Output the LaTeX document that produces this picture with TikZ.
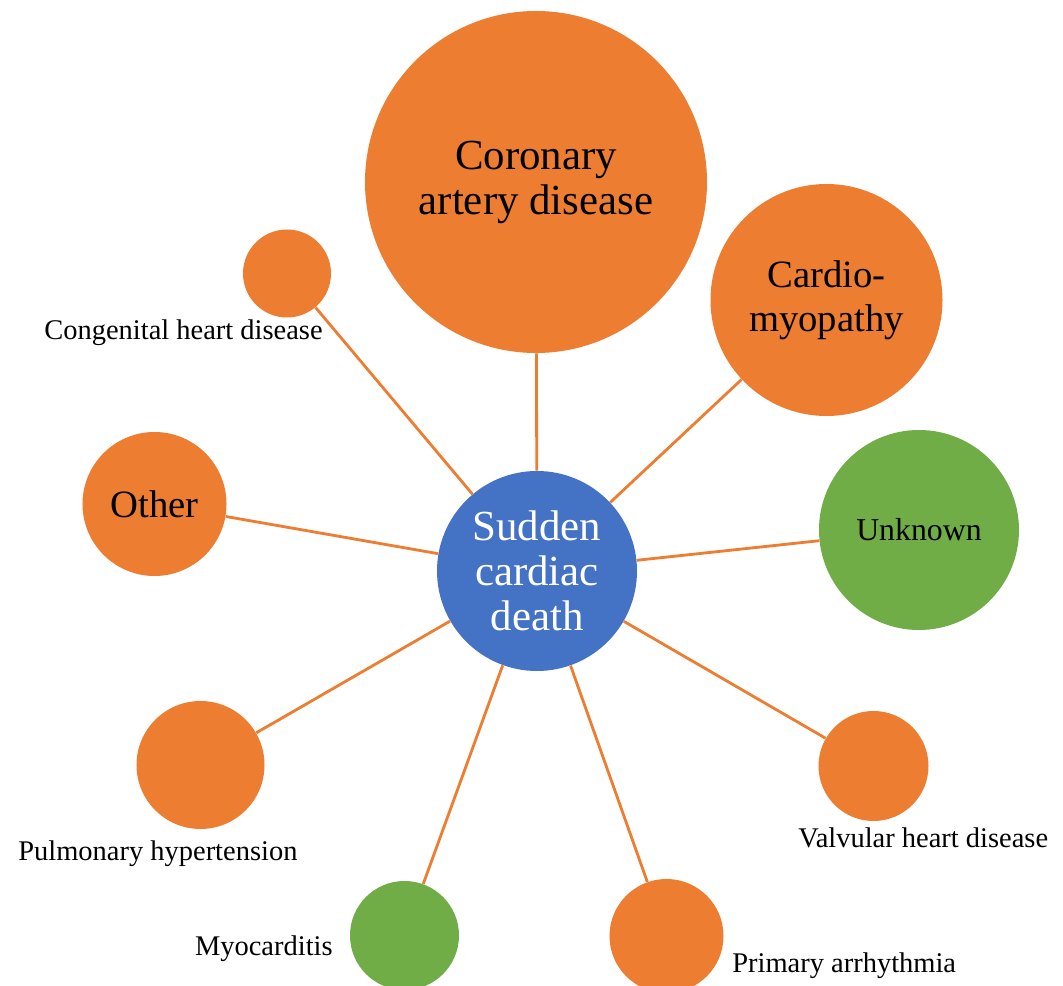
\documentclass[tikz,border=0pt]{standalone}
\usepackage{fontspec}
\setmainfont{Liberation Serif}
\definecolor{ballorange}{HTML}{ED7D31}
\definecolor{ballblue}{HTML}{4472C4}
\definecolor{ballgreen}{HTML}{70AD47}

\begin{document}
\begin{tikzpicture}[x=.2mm, y=-.2mm,
                ball/.style={circle, fill=ballorange, inner sep=0pt, align=center, minimum size=#1},
                greenball/.style={ball=#1, fill=ballgreen},
                bigtext/.style={font=\fontsize{24.4}{25.6}\selectfont},
                midtext/.style={font=\fontsize{22}{25}\selectfont},
                lbl/.style={inner sep=0pt, font=\fontsize{16.2}{18}\selectfont},
                spoke/.style={ballorange, line width=1.6pt}]
                \useasboundingbox (0,0) rectangle (1063,986);

                % centre
                \node[ball=40mm, fill=ballblue, text=white, bigtext] (sdc) at (537,571) {Sudden\\cardiac\\death};

                % causes
                \node[ball=68.4mm, bigtext] (cad) at (536,182) {Coronary\\artery disease};
                \node[ball=46.4mm, midtext] (cmp) at (826.5,300) {Cardio-\\myopathy};
                \node[greenball=40mm, font=\fontsize{18.1}{20}\selectfont] (unk) at (919,530) {Unknown};
                \node[ball=22mm] (vhd) at (873.5,766) {};
                \node[ball=22.8mm] (pa) at (666.5,936) {};
                \node[greenball=21.8mm] (myo) at (404.5,935.5) {};
                \node[ball=25.6mm] (ph) at (200.5,765) {};
                \node[ball=28.8mm, midtext] (oth) at (154.5,504) {Other};
                \node[ball=17.6mm] (chd) at (287,273.5) {};

                \foreach \n in {cad, cmp, unk, vhd, pa, myo, ph, oth, chd} {
                        \draw[spoke] (sdc) -- (\n);
                    }

                % labels of the small balls
                \node[lbl, anchor=base east] (chdtxt) at (323,340) {Congenital heart disease};
                \node[lbl, anchor=base west] (phtxt) at (18,860) {Pulmonary hypertension};
                \node[lbl, anchor=base east] (myotxt) at (333,955) {Myocarditis};
                \node[lbl, anchor=base west] (vhdtxt) at (798,848) {Valvular heart disease};
                \node[lbl, anchor=base west] (patxt) at (732,972) {Primary arrhythmia};
            \end{tikzpicture}
\end{document}
